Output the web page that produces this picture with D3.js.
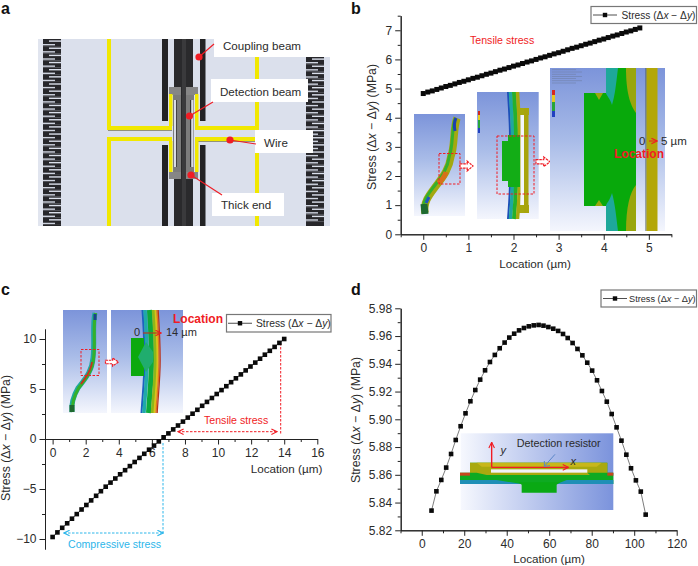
<!DOCTYPE html>
<html><head><meta charset="utf-8">
<script src="https://cdn.jsdelivr.net/npm/d3@7"></script>
<style>html,body{margin:0;padding:0;background:#fff}svg{display:block}text{font-family:"Liberation Sans",Arial,sans-serif;fill:#2b2b2b}</style>
</head><body><svg id="c" width="698" height="566"></svg>
<script>
// ---- data ----
const bX=[0,0.1,0.2,0.3,0.4,0.5,0.6,0.7,0.8,0.9,1,1.1,1.2,1.3,1.4,1.5,1.6,1.7,1.8,1.9,2,2.1,2.2,2.3,2.4,2.5,2.6,2.7,2.8,2.9,3,3.1,3.2,3.3,3.4,3.5,3.6,3.7,3.8,3.9,4,4.1,4.2,4.3,4.4,4.5,4.6,4.7,4.8];
const bY=[4.83,4.88,4.92,4.97,5.02,5.07,5.11,5.16,5.21,5.25,5.30,5.35,5.39,5.44,5.49,5.53,5.58,5.63,5.67,5.72,5.77,5.81,5.86,5.91,5.95,6.00,6.05,6.09,6.14,6.19,6.23,6.28,6.33,6.38,6.42,6.47,6.52,6.56,6.61,6.66,6.70,6.75,6.80,6.84,6.89,6.94,6.98,7.03,7.08];
const cX=[0,0.29,0.58,0.88,1.17,1.46,1.75,2.04,2.33,2.63,2.92,3.21,3.50,3.79,4.08,4.38,4.67,4.96,5.25,5.54,5.83,6.13,6.42,6.71,7.00,7.29,7.58,7.88,8.17,8.46,8.75,9.04,9.33,9.63,9.92,10.21,10.50,10.79,11.08,11.38,11.67,11.96,12.25,12.54,12.83,13.13,13.42,13.71,14.00];
const cY=[-9.80,-9.34,-8.88,-8.43,-7.97,-7.51,-7.05,-6.60,-6.14,-5.68,-5.22,-4.77,-4.36,-3.95,-3.53,-3.12,-2.71,-2.30,-1.89,-1.48,-1.07,-0.66,-0.24,0.17,0.56,0.96,1.35,1.74,2.14,2.53,2.92,3.32,3.71,4.10,4.50,4.89,5.28,5.68,6.07,6.46,6.86,7.25,7.64,8.03,8.43,8.82,9.21,9.61,10.00];
const dX=[4.6,6.9,9.2,11.5,13.8,16.0,18.3,20.6,22.9,25.2,27.5,29.8,32.1,34.4,36.7,39.0,41.2,43.5,45.8,48.1,50.4,52.7,55.0,57.3,59.6,61.9,64.2,66.5,68.7,71.0,73.3,75.6,77.9,80.2,82.5,84.8,87.1,89.4,91.7,94.0,96.3,98.5,100.8,103.1,105.4];
const dY=[5.8342,5.8481,5.8563,5.8652,5.8750,5.8851,5.8950,5.9043,5.9130,5.9211,5.9286,5.9353,5.9413,5.9464,5.9512,5.9553,5.9589,5.9617,5.9641,5.9658,5.9670,5.9677,5.9680,5.9675,5.9665,5.9653,5.9637,5.9615,5.9586,5.9550,5.9507,5.9461,5.9408,5.9351,5.9281,5.9204,5.9127,5.9038,5.8942,5.8846,5.8745,5.8647,5.8560,5.8479,5.8313];
const bXTicks=[0,1,2,3,4,5], bYTicks=[0,1,2,3,4,5,6,7];
const cXTicks=[0,2,4,6,8,10,12,14,16], cYTicks=[-10,-5,0,5,10];
const dXTicks=[0,20,40,60,80,100,120], dYTicks=[5.82,5.84,5.86,5.88,5.90,5.92,5.94,5.96,5.98];
const labelsA=[["Coupling beam",223,50],["Detection beam",220,96],["Wire",264,147],["Thick end",221,209]];

const svg=d3.select("#c"), defs=svg.append("defs");
const RED="#f01c24", CY="#2db6ea";
function grad(id,x2,y2,stops){const g=defs.append("linearGradient").attr("id",id).attr("x1",0).attr("y1",0).attr("x2",x2).attr("y2",y2);
  stops.forEach(([o,c])=>g.append("stop").attr("offset",o).attr("stop-color",c));}
grad("gv",0,1,[[0,"#7c94da"],[0.45,"#a9bce8"],[1,"#f4f6fd"]]);
grad("gh",1,0,[[0,"#f6f8fe"],[1,"#7b93dc"]]);
[["ar",RED],["ac",CY]].forEach(([id,c])=>{const m=defs.append("marker").attr("id",id).attr("viewBox","0 0 10 10").attr("refX",9).attr("refY",5).attr("markerWidth",7).attr("markerHeight",7).attr("orient","auto-start-reverse").attr("markerUnits","userSpaceOnUse");
  m.append("path").attr("d","M1 1L9 5L1 9").attr("fill","none").attr("stroke",c).attr("stroke-width",1.6);});

const R=(x,y,w,h,f,g=svg)=>g.append("rect").attr("x",x).attr("y",y).attr("width",w).attr("height",h).attr("fill",f);
const P=(d,s,w,g=svg)=>g.append("path").attr("d",d).attr("fill","none").attr("stroke",s).attr("stroke-width",w);
const F=(d,f,g=svg)=>g.append("path").attr("d",d).attr("fill",f);
const T=(t,x,y,size,col,opt={})=>{const e=svg.append("text").attr("x",x).attr("y",y).attr("font-size",size).text(t);e.style("fill",col||"#2b2b2b");if(opt.bold)e.attr("font-weight","bold");if(opt.anchor)e.attr("text-anchor",opt.anchor);if(opt.it)e.attr("font-style","italic");return e;};
function stress(e,suffix){e.text(null);const parts=[["Stress (Δ",0],["x",1],[" − Δ",0],["y",1],[")"+(suffix||""),0]];
  parts.forEach(([t,i])=>e.append("tspan").attr("font-style",i?"italic":"normal").text(t));return e;}
const blockArrow=(x,y,w,h)=>{const hw=w*0.45;P(`M${x} ${y+h*.28}H${x+w-hw}V${y}L${x+w} ${y+h/2}L${x+w-hw} ${y+h}V${y+h*.72}H${x}Z`,RED,1.2).attr("stroke-dasharray","2.5 0.8").attr("fill","#fff");};
const dashRect=(x,y,w,h)=>R(x,y,w,h,"none").attr("stroke",RED).attr("stroke-width",1).attr("stroke-dasharray","2.5 1.5");

// ---- panel letters ----
[["a",1,14],["b",351,14],["c",1,295],["d",351,295]].forEach(([t,x,y])=>T(t,x,y,16,"#111",{bold:true}));

// ---- panel a: device rendering ----
R(38,39,292,187,"#dbe0ec");
R(260,39,70,17,"#fff");R(38,39,5,187,"#e1e5ef");
function comb(x,y0,y1){for(let y=y0;y<y1;y+=7.15){const h=Math.min(7.15,y1-y);R(x,y,18,h,"#27272b");if(h>6.5){R(x+6,y+1.4,12,1.4,"#dbe0ec");R(x,y+5,12,1.4,"#cfd4e0");}}}
comb(43,39,226);comb(306,57,226);
const Y="#f1e800";
[[162,39,6,82],[162,145,6,81],[200,39,5.5,82],[200,145,5.5,81]].forEach(a=>R(a[0],a[1],a[2],a[3],"#232325"));
R(174,39,19,187,"#2a2a2c");
R(182,39,4,187,"#3a3a3c");
[[107,39,4,90],[107,126,65,4],[107,137,65,4],[107,137,4,89],[255,56,4,73],[195,126,64,4],[195,137,61,4],[255,153,4,73]].forEach(a=>R(a[0],a[1],a[2],a[3],Y));
R(108,130,64,.9,"#8b8b6a");R(195,141,61,.9,"#8b8b6a");
// grey detection frame
R(169,87,12,8,"#868686");R(186,87,12,8,"#868686");R(169,172,12,7,"#868686");R(186,172,12,7,"#868686");
R(173,95,8,77,"#7c7c7c");R(186,95,8,77,"#7c7c7c");
R(174,100,2.4,67,"#d9dce4");R(191,100,2.4,67,"#d9dce4");R(190,100,1.2,67,"#333");R(176,100,1,67,"#444");
[[169,94,3.5,32],[195,94,3.5,32],[169,141,3.5,31],[195,141,3.5,31]].forEach(a=>R(a[0],a[1],a[2],a[3],Y));
// label boxes
[[214,36,116,21],[211,79,97,23],[255,130,58,23],[212,193,72,23]].forEach(a=>R(a[0],a[1],a[2],a[3],"#fff"));
[[199,57,214,44],[189.5,116,213,102],[230,140,256,144],[191,175,222,195]].forEach(a=>{
  svg.append("line").attr("x1",a[0]).attr("y1",a[1]).attr("x2",a[2]).attr("y2",a[3]).attr("stroke",RED).attr("stroke-width",1.1);
  svg.append("circle").attr("cx",a[0]).attr("cy",a[1]).attr("r",3.6).attr("fill",RED);});
labelsA.forEach(l=>T(l[0],l[1],l[2],11.6));

// ---- axes helper ----
function axes(o){const g=svg.append("g");
  const ax=g.append("g").attr("transform",`translate(0,${o.xAt})`);
  const ay=g.append("g").attr("transform",`translate(${o.yAt},0)`);
  ay.call(d3.axisLeft(o.y).tickValues(o.yMinor).tickSize(3).tickSizeOuter(0).tickFormat(""));
  ax.call(d3.axisBottom(o.x).tickValues(o.xMinor).tickSize(3).tickSizeOuter(0).tickFormat(""));
  ay.append("g").call(d3.axisLeft(o.y).tickValues(o.yTicks).tickSize(5.5).tickPadding(3).tickSizeOuter(0).tickFormat(o.yFmt||d3.format("d")));
  ax.append("g").call(d3.axisBottom(o.x).tickValues(o.xTicks).tickSize(5.5).tickPadding(o.xPad||4).tickSizeOuter(0).tickFormat(d3.format("d")));
  g.selectAll("path.domain,line").attr("stroke","#222").attr("stroke-width",1);
  g.selectAll("text").attr("font-size",o.fs||12).attr("font-family",'"Liberation Sans",Arial,sans-serif').style("fill","#2b2b2b");
}
function series(xs,ys,x,y,lw,ms,col){const line=d3.line().x(i=>x(xs[i])).y(i=>y(ys[i]));
  P(line(d3.range(xs.length)),col||"#222",lw);
  svg.append("g").selectAll("rect").data(d3.range(xs.length)).join("rect").attr("x",i=>x(xs[i])-ms/2).attr("y",i=>y(ys[i])-ms/2).attr("width",ms).attr("height",ms).attr("fill","#0a0a0a");}
function legend(x,y,w,h,lx0,lx1,mx,tx,fs){R(x,y,w,h,"#fff").attr("stroke","#777").attr("stroke-width",1.2);
  const my=y+h/2;P(`M${lx0} ${my}H${lx1}`,"#222",.8);R(mx-2.2,my-2.2,4.4,4.4,"#0a0a0a");stress(T("",tx,my+fs*.36,fs));}

// ---- panel b ----
const bx=d3.scaleLinear().domain([-0.5,5.5]).range([400.7,671.4]);
const by=d3.scaleLinear().domain([0,7.5]).range([234.3,15.7]);
axes({x:bx,y:by,xAt:234.3,yAt:400.7,xTicks:bXTicks,yTicks:bYTicks,xMinor:[-0.5,.5,1.5,2.5,3.5,4.5,5.5],yMinor:[.5,1.5,2.5,3.5,4.5,5.5,6.5,7.5]});
R(414,114,51,102,"url(#gv)");
// b1 beam
const b1="M457 118C453 128 455 146 451 156C449 170 442 178 436 186C430 194 423 202 425 213";
P(b1,"#a3a80f",7.5);P(b1,"#35b02c",3).attr("transform","translate(-1.6,0)");P("M456 118C454 122 454 126 455 131","#1c3fb0",3);P("M446 172C444 178 441 181 438 183","#d8701a",5);P("M424 204L425 214","#1e6a30",7);P("M429 197L426 203","#1f56c0",3);
dashRect(439,153.5,21,30.5);blockArrow(460,161,13,10);
// b2
R(477,92,61.7,127,"url(#gv)");
const b2="M513 92C514 110 515 122 515 136V180C515 195 514 205 513 219";
[[-5,"#1d4fb8",2],[-2.5,"#1ea7a0",3.5],[1,"#26b02a",4],[4.5,"#a6a80e",3.5]].forEach(([d,c,w])=>P(b2,c,w).attr("transform",`translate(${d},0)`));
R(502,141,8,40,"#13ad16");R(508,135,12,52,"#13ad16");
R(518,108,11,7,"#a6a80e");R(518,205,11,8,"#a6a80e");R(524,108,4.5,105,"#a8a40c");R(520.5,115,3.5,90,"#f4f6fb");
R(478,111,2,22,"#27a53a");R(478,111,2,4,"#d02a20");R(478,115,2,5,"#e6d020");R(478,128,2,5,"#2040c0");
dashRect(497,136,37,58);blockArrow(536,157,14,9.5);
// b3
R(550,68,115,163,"url(#gv)");
R(584,93,23,113,"#08a90b");R(607,68,29,163,"#08a90b");
F("M606 68H618C616 85 615 95 612 105C610 98 606 95 606 93Z","#1ea89a");F("M606 231H618C616 214 615 204 612 193C610 200 606 204 606 206Z","#1ea89a");
F("M626 68H636V113C630 105 626 92 626 68Z","#99a60d");F("M626 231H636V185C630 192 626 207 626 231Z","#99a60d");
F("M595 93L599 100L603 93Z","#9aa80e");F("M595 206L599 200L603 206Z","#9aa80e");
R(645.5,68,1,163,"#4c5a5a");R(646.5,68,11,163,"#b3a708");
R(552,90,3,27,"#27a53a");R(552,90,3,5,"#d8281e");R(552,95,3,7,"#e6c820");R(552,111,3,6,"#2040c0");
[0,1,2,3,4,5,6].forEach(i=>R(552,69.5+i*2.2,i%2?30:24,.6,"#7080a8"));
T("Tensile stress",470,44,10.6,RED);
T("Location",614,158,12,RED,{bold:true});
T("0",639,145,11.5);T("5 µm",661,145,11.5);
P("M649 141H657",RED,1).attr("marker-end","url(#ar)");
series(bX,bY,bx,by,1,5);
stress(T("",0,0,12.3).attr("transform","translate(376,127) rotate(-90)").attr("text-anchor","middle")," (MPa)");
T("Location (µm)",535,268,11.7,null,{anchor:"middle"});
legend(591,6.5,105.5,17,593,617,605,621.5,10.2);

// ---- panel c ----
const cx=d3.scaleLinear().domain([-0.46,16]).range([45,317.3]);
const cy=d3.scaleLinear().domain([-11,11]).range([549,329]);
R(63,310,44,103,"url(#gv)");R(111,310,72,103,"url(#gv)");
const c1="M95 313C92 325 95 342 93 358C92 372 84 380 78 388C74 395 71 404 72 412";
P(c1,"#1ea8a0",5);P(c1,"#36b02a",3).attr("transform","translate(.6,0)");P("M92 362C91 372 85 378 81 384","#c8321e",1.8);P("M95 314V320","#1c4090",3);P("M72 405V412","#1e6a30",5);
dashRect(81,349.5,18,26);blockArrow(105.5,358,13,8);
const c2="M147 310C148 325 149 345 149 360C149 380 147 395 146 413";
[[-4.5,"#1d62c0",2],[-2,"#1fa9a8",3.5],[2.5,"#0eaa3c",5],[6.5,"#8fb61a",3.5],[8.5,"#dac31a",2],[10,"#e07a1a",1.5],[11.2,"#b8321c",1.2]].forEach(([dx,c,w])=>P(c2,c,w).attr("transform",`translate(${dx},0)`));
R(131,338,13,38,"#0ca90f");F("M138 357L146 342L153 352V362L146 372Z","#20ad6e");
T("Location",173,323,12,RED,{bold:true});
T("0",134,336,11);T("14 µm",166,336,11);
P("M143 333H161","#b83a20",1.2).attr("marker-end","url(#ar)");
axes({x:cx,y:cy,xAt:439,yAt:45,xTicks:cXTicks,yTicks:cYTicks,xMinor:[1,3,5,7,9,11,13,15],yMinor:[-7.5,-2.5,2.5,7.5]});
P("M280.7 343V435",RED,1).attr("stroke-dasharray","2.5 1.5");
P("M178 431.7H277",RED,1).attr("stroke-dasharray","2.5 1.5").attr("marker-start","url(#ar)").attr("marker-end","url(#ar)");
T("Tensile stress",204,424,10.6,RED);
P("M163 443V535",CY,1).attr("stroke-dasharray","2.5 1.5");
P("M64 533H163",CY,1).attr("stroke-dasharray","2.5 1.5").attr("marker-start","url(#ac)").attr("marker-end","url(#ac)");
T("Compressive stress",68,548,10.6,CY);
series(cX,cY,cx,cy,.8,4.6);
stress(T("",0,0,12.3).attr("transform","translate(10,438) rotate(-90)").attr("text-anchor","middle")," (MPa)");
T("Location (µm)",286.5,473,11.7,null,{anchor:"middle"});
legend(226.5,314.5,104.5,17.5,228,252,240,256,10.3);

// ---- panel d ----
const dx=d3.scaleLinear().domain([-10,120]).range([400.5,676.7]);
const dy=d3.scaleLinear().domain([5.82,5.98]).range([530.3,308.3]);
axes({x:dx,y:dy,xAt:530.3,yAt:400.7,xTicks:dXTicks,yTicks:dYTicks,yFmt:d3.format(".2f"),xMinor:[-10,10,30,50,70,90,110],yMinor:[5.83,5.85,5.87,5.89,5.91,5.93,5.95,5.97]});
R(460.7,433.3,152.6,76.7,"url(#gh)");
const Z=(x,y)=>[450+x/3,425+y/3].join(" ");
F(`M${Z(60,113)}H${450+472/3}V${425+143/3}H${450+490/3}V${425+177/3}H${450+30/3}V${425+143/3}H${450+60/3}Z`,"#0eaa22");
F(`M${Z(60,113)}H${450+472/3}V${425+143/3}H${450+412/3}L${Z(420,150)}H${450+110/3}L${Z(80,143)}H${450+60/3}Z`,"#a9a90f");
F(`M${Z(80,113)}H${450+455/3}L${Z(440,125)}H${450+95/3}Z`,"#c8b71a");
F(`M${Z(30,143)}H${450+60/3}V${425+152/3}H${450+30/3}Z`,"#c8461e");
F(`M${Z(472,143)}H${450+490/3}V${425+152/3}H${450+472/3}Z`,"#c8461e");
F(`M${Z(30,165)}H${450+140/3}L${Z(215,177)}H${450+30/3}Z`,"#1f8fb6");
F(`M${Z(490,165)}H${450+350/3}L${Z(320,177)}H${450+490/3}Z`,"#1f8fb6");
R(450+123/3,425+133/3,289/3,10/3,"#f0f2f8");
F(`M${Z(205,172)}H${450+330/3}L${Z(320,179)}V${425+203/3}H${450+215/3}V${425+179/3}Z`,"#0aa914");
P(`M${Z(125,127)}H${450+355/3}`,RED,1.4).attr("marker-end","url(#ar)");
P(`M${Z(125,127)}V${425+52/3}`,RED,1.4).attr("marker-end","url(#ar)");
P(`M${Z(315,88)}L${Z(283,124)}`,"#5b86c8",1);
P(`M${Z(283,108)}L${Z(283,124)}L${Z(300,122)}`,"#5b86c8",1);
T("Detection resistor",516.7,447,10.8);
T("y",500.5,454,11,null,{it:true});T("x",570.5,465,11,null,{it:true});
series(dX,dY,dx,dy,.7,4.6,"#444");
stress(T("",0,0,12.3).attr("transform","translate(360,420) rotate(-90)").attr("text-anchor","middle")," (MPa)");
T("Location (µm)",549,563,11.7,null,{anchor:"middle"});
legend(601,290,95.5,17,603,627,615,629,9.2);
</script></body></html>
